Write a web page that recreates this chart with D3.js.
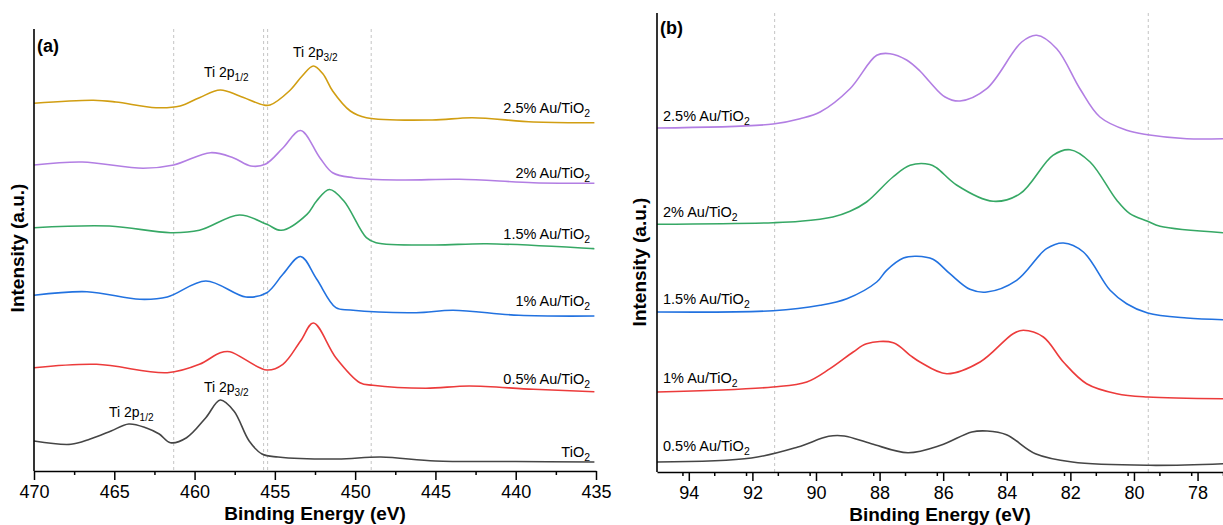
<!DOCTYPE html>
<html>
<head>
<meta charset="utf-8">
<script src="https://cdn.jsdelivr.net/npm/d3@7"></script>
<style>
  body { margin: 0; background: #fff; }
  svg { display: block; font-family: "Liberation Sans", Arial, sans-serif; }
</style>
</head>
<body>
<svg id="chart" width="1223" height="525"></svg>
<script>
// ---- panel (a): Ti 2p, binding energy (eV) / intensity (a.u.) ----
var tio2_a   = [[470,30],[467.7,26.7],[466.5,32],[465.2,40],[464.1,47],[463.0,43],[462.2,37],[461.5,28.3],[460.5,33.3],[459.3,53.3],[458.4,71],[457.55,60],[456.6,30],[455.8,17],[454.8,14],[451.1,12],[448.4,14],[445,10],[440,9.5],[435.1,9]];
var au05_a   = [[470,103.3],[466.1,106.7],[461.7,98.3],[459.7,106.7],[458.4,118.3],[457.8,119.3],[455.5,101],[454.5,106.7],[453.4,130],[452.6,148],[451.2,113.3],[449.7,88.3],[448.9,85.7],[445.6,82.7],[442.9,85],[438.9,81.7],[435.1,79.3]];
var au1_a    = [[470,175.7],[466.7,179.3],[463.4,171.7],[461.7,174],[459.3,190],[456.8,174],[455.5,178.3],[454.5,196.7],[453.4,214.5],[452.4,192],[451.2,163.3],[450.3,161],[446.2,158.3],[443.9,160.7],[439.8,155.7],[435.1,155]];
var au15_a   = [[470,243.3],[465.3,245],[461.5,238.3],[459.7,240.7],[457.2,256],[455.5,246.7],[454.6,240.7],[453.0,256.7],[452.4,270],[451.6,281.5],[450.7,270],[449.3,233.3],[448.7,228.3],[445.1,226],[441.8,227.3],[435.1,222.3]];
var au2_a    = [[470,306],[467,309],[463.2,302.7],[461.3,306],[459.0,318.3],[457.6,313.3],[456.5,305],[455.6,306.7],[454.5,323],[453.4,340.5],[452.2,313.3],[451.4,298.3],[450.1,293.3],[447.2,291],[443.5,291.7],[438.9,288.3],[435.1,287.7]];
var au25_a   = [[470,367.7],[466.3,370.7],[464.9,369],[462.4,363.3],[460.9,365],[459.7,373.3],[458.4,381],[457.2,375],[455.7,366],[455.3,366],[454.1,380],[453.3,395],[452.6,405],[452.0,397],[451.4,380],[450.3,360],[449.3,353.3],[445.2,351],[442.7,353.3],[438.9,349],[435.1,348.3]];
var seriesNames_a = ["TiO2", "0.5% Au/TiO2", "1% Au/TiO2", "1.5% Au/TiO2", "2% Au/TiO2", "2.5% Au/TiO2"];
var refLines_a = [461.3, 455.7, 455.45, 449.0];
var ticks_a = [470, 465, 460, 455, 450, 445, 440, 435];

// ---- panel (b): Au 4f ----
var au05_b = [[95,10],[92.03,14],[90.57,25],[89.6,35.7],[89.11,36],[88.26,28.3],[87.11,19.3],[86.08,26.7],[85.1,40],[84.62,41],[84.01,37.3],[83.1,18.3],[81.94,10],[79.51,6.7],[77.2,8.3]];
var au1_b  = [[95,80],[91.35,85],[90.29,90],[89.56,103.3],[88.83,120],[88.41,128.3],[87.57,129.3],[87.04,116.7],[86.73,110],[85.89,98.3],[84.84,110],[83.8,138.3],[83.48,141.7],[82.85,135],[82.22,110],[81.49,88.3],[80.54,78.3],[79.57,75],[77.2,73.3]];
var au15_b = [[95,160],[91.35,161.3],[89.87,166.7],[89.03,173.3],[88.09,190],[87.78,201.7],[87.25,214],[86.83,215.7],[86.32,212.7],[85.79,198.3],[85.16,182.7],[84.63,180],[83.69,191.7],[82.75,223.3],[82.22,229],[81.59,220],[80.75,181.7],[80.23,168.3],[79.57,159],[78.34,154],[77.2,152.3]];
var au2_b  = [[95,247.7],[91.35,249.3],[90.5,250.7],[89.47,255],[88.93,260.7],[88.41,270],[87.58,295],[87.04,306.7],[86.42,307.5],[86.2,304],[85.58,287],[84.43,270.7],[83.58,278.3],[82.55,316.7],[82.01,322.3],[81.38,310],[80.54,271.7],[80.13,258.3],[79.57,250.7],[79.18,245.7],[77.2,239.3]];
var au25_b = [[95,344],[91.35,348],[90.5,353.3],[89.87,360],[88.93,383.3],[88.09,416.7],[87.67,418.3],[87.15,412],[86.73,401],[86.42,390],[85.94,375],[85.47,371],[84.63,383.3],[83.53,430],[83.06,436.7],[82.43,423.3],[81.7,383.3],[81.07,355],[80.23,341.7],[79.57,337.3],[78.34,333.3],[77.2,333.3]];
var seriesNames_b = ["0.5% Au/TiO2", "1% Au/TiO2", "1.5% Au/TiO2", "2% Au/TiO2", "2.5% Au/TiO2"];
var refLines_b = [91.3, 79.55];
var ticks_b = [94, 92, 90, 88, 86, 84, 82, 80, 78];

var colors = {
  "TiO2": "#454545",
  "0.5% Au/TiO2": "#ec3b3b",
  "1% Au/TiO2": "#2272e0",
  "1.5% Au/TiO2": "#36a865",
  "2% Au/TiO2": "#b27ee3",
  "2.5% Au/TiO2": "#d19e12"
};
var colors_b = ["#454545", "#ec3b3b", "#2272e0", "#36a865", "#b27ee3"];

var svg = d3.select("#chart");

// writes "Au/TiO2" style text with a subscript
function subText(sel, main, sub, size) {
  sel.append("tspan").text(main);
  sel.append("tspan").attr("font-size", size * 0.72).attr("dy", size * 0.28).text(sub);
}

function drawPanel(cfg) {
  var x = d3.scaleLinear().domain(cfg.xDomain).range([cfg.left, cfg.right]);
  var y = d3.scaleLinear().domain(cfg.yDomain).range([cfg.bottom, cfg.top]);
  var g = svg.append("g");

  // dotted reference lines
  g.selectAll("line.ref").data(cfg.refs).enter().append("line")
    .attr("x1", function(d) { return x(d); }).attr("x2", function(d) { return x(d); })
    .attr("y1", cfg.top).attr("y2", cfg.bottom)
    .attr("stroke", "#c4c4c4").attr("stroke-width", 1).attr("stroke-dasharray", "3,3");

  var line = d3.line()
    .x(function(d) { return x(d[0]); })
    .y(function(d) { return y(d[1]); })
    .curve(d3.curveCatmullRom.alpha(0.5));

  cfg.series.forEach(function(s, i) {
    g.append("path").datum(s)
      .attr("fill", "none")
      .attr("stroke", cfg.colors[i])
      .attr("stroke-width", 1.6)
      .attr("d", line);
  });

  // minor ticks
  var minor = d3.range(cfg.xDomain[1], cfg.xDomain[0] + 0.001, cfg.minorStep)
    .filter(function(v) { return cfg.ticks.indexOf(+v.toFixed(2)) < 0; });
  g.append("g").attr("transform", "translate(0," + cfg.bottom + ")")
    .call(d3.axisBottom(x).tickValues(minor).tickSize(4).tickFormat(""))
    .call(function(a) { a.select(".domain").remove(); a.selectAll("line").attr("stroke-width", 1.5); });

  var ax = g.append("g").attr("transform", "translate(0," + cfg.bottom + ")")
    .call(d3.axisBottom(x).tickValues(cfg.ticks).tickSize(9).tickSizeOuter(0).tickPadding(5).tickFormat(d3.format("d")));
  ax.select(".domain").attr("stroke-width", 1.6);
  ax.selectAll("line").attr("stroke-width", 1.5);
  ax.selectAll("text").attr("font-size", 18).attr("fill", "#000")
    .attr("font-family", "Liberation Sans, Arial, sans-serif");

  g.append("line")
    .attr("x1", cfg.left).attr("x2", cfg.left)
    .attr("y1", cfg.top).attr("y2", cfg.bottom)
    .attr("stroke", "#000").attr("stroke-width", 1.6);

  g.append("text")
    .attr("x", (cfg.left + cfg.right) / 2).attr("y", cfg.bottom + 49)
    .attr("text-anchor", "middle").attr("font-size", 19).attr("font-weight", "bold")
    .text("Binding Energy (eV)");

  g.append("text")
    .attr("transform", "translate(" + cfg.yTitleX + "," + cfg.yTitleY + ") rotate(-90)")
    .attr("text-anchor", "middle").attr("font-size", 19).attr("font-weight", "bold")
    .text("Intensity (a.u.)");

  g.append("text")
    .attr("x", cfg.left + 3).attr("y", cfg.panelY)
    .attr("font-size", 18).attr("font-weight", "bold")
    .text(cfg.panel);

  return { x: x, y: y, g: g };
}

var pa = drawPanel({
  left: 34, right: 596, top: 29, bottom: 471,
  xDomain: [470, 435], yDomain: [0, 442],
  refs: refLines_a, ticks: ticks_a, minorStep: 2.5,
  series: [tio2_a, au05_a, au1_a, au15_a, au2_a, au25_a],
  colors: seriesNames_a.map(function(n) { return colors[n]; }),
  yTitleX: 24, yTitleY: 248, panel: "(a)", panelY: 52
});

var pb = drawPanel({
  left: 657, right: 1223, top: 13, bottom: 472,
  xDomain: [95, 77.2], yDomain: [0, 459],
  refs: refLines_b, ticks: ticks_b, minorStep: 1,
  series: [au05_b, au1_b, au15_b, au2_b, au25_b],
  colors: colors_b,
  yTitleX: 646, yTitleY: 262, panel: "(b)", panelY: 34
});

// sample labels, panel (a): right aligned
var labelY_a = [457, 384, 306, 239, 178, 113];
seriesNames_a.forEach(function(n, i) {
  var t = pa.g.append("text").attr("x", 590).attr("y", labelY_a[i])
    .attr("text-anchor", "end").attr("font-size", 14.5);
  subText(t, n.slice(0, -1), "2", 14.5);
});

// sample labels, panel (b): left aligned
var labelY_b = [451, 383, 304, 217, 121];
seriesNames_b.forEach(function(n, i) {
  var t = pb.g.append("text").attr("x", 663).attr("y", labelY_b[i])
    .attr("font-size", 14.5);
  subText(t, n.slice(0, -1), "2", 14.5);
});

// peak annotations
var peakNotes = [
  { x: 204, y: 77, sub: "1/2" },
  { x: 293, y: 57, sub: "3/2" },
  { x: 109, y: 417, sub: "1/2" },
  { x: 204, y: 392, sub: "3/2" }
];
peakNotes.forEach(function(p) {
  var t = pa.g.append("text").attr("x", p.x).attr("y", p.y).attr("font-size", 14);
  subText(t, "Ti 2p", p.sub, 14);
});
</script>
</body>
</html>
